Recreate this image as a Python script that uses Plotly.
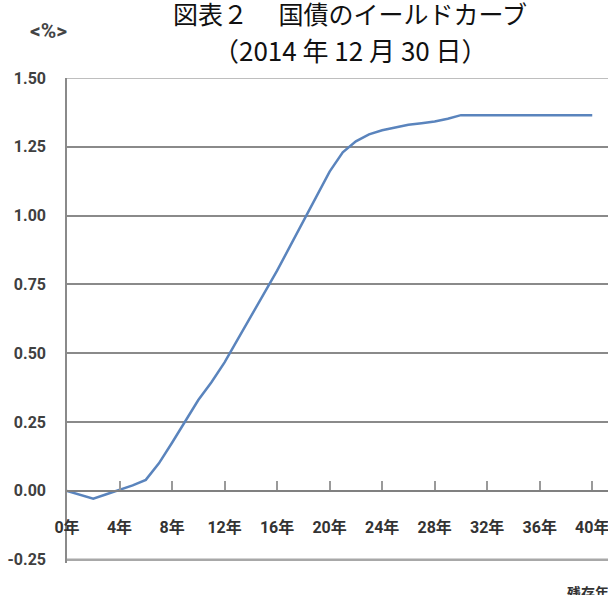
import plotly.graph_objects as go

# Data
maturity_years = [0, 1, 2, 3, 4, 5, 6, 7, 8, 9, 10, 11, 12, 13, 14, 15, 16, 17, 18, 19,
                  20, 21, 22, 23, 24, 25, 26, 27, 28, 29, 30, 32, 34, 36, 38, 40]
yield_pct = [0.00, -0.015, -0.028, -0.012, 0.005, 0.02, 0.04, 0.10, 0.175, 0.255, 0.33,
             0.395, 0.467, 0.55, 0.633, 0.717, 0.80, 0.89, 0.98, 1.07,
             1.16, 1.23, 1.27, 1.295, 1.31, 1.32, 1.33, 1.336, 1.342, 1.352,
             1.365, 1.365, 1.365, 1.365, 1.365, 1.365]
x_tick_vals = [0, 4, 8, 12, 16, 20, 24, 28, 32, 36, 40]
x_tick_text = ["0年", "4年", "8年", "12年", "16年", "20年", "24年", "28年", "32年", "36年", "40年"]
y_tick_vals = [-0.25, 0.00, 0.25, 0.50, 0.75, 1.00, 1.25, 1.50]
y_tick_text = ["-0.25", "0.00", "0.25", "0.50", "0.75", "1.00", "1.25", "1.50"]

title_line1 = "図表２　 国債のイールドカーブ"
title_line2 = "（2014 年 12 月 30 日）"
unit_label = "<%>"
x_label = "残存年限"

NARROW = "Roboto, Noto Sans CJK JP, sans-serif"
CJK = "Noto Sans CJK JP, sans-serif"

ymin, ymax = -0.25, 1.5
ymin_plot = -0.262   # small pad so the -0.25 line lies inside the plot
x_range = [0, 41.2]

fig = go.Figure()
fig.add_trace(go.Scatter(
    x=maturity_years, y=yield_pct, mode="lines",
    line=dict(color="#5a84bd", width=2.5),
    hoverinfo="skip", showlegend=False,
))

fig.update_layout(
    width=608, height=595,
    margin=dict(l=67, r=0, t=78, b=32),
    paper_bgcolor="white", plot_bgcolor="white",
    xaxis=dict(
        range=x_range,
        anchor="free", position=(0 - ymin_plot) / (ymax - ymin_plot),
        showgrid=False, zeroline=False,
        showline=True, linecolor="#808080", linewidth=2,
        ticks="inside", ticklen=9, tickwidth=1.5, tickcolor="#9a9a9a",
        tickvals=x_tick_vals, ticktext=x_tick_text,
        tickfont=dict(family=NARROW, size=16, color="#333333", weight="bold"),
        ticklabelstandoff=22, ticklabeloverflow="allow",
    ),
    yaxis=dict(
        range=[ymin_plot, ymax],
        tickvals=y_tick_vals, ticktext=y_tick_text,
        showgrid=True, gridcolor="#8a8a8a", gridwidth=2,
        zeroline=False,
        showline=True, linecolor="#8a8a8a", linewidth=1.5,
        ticks="", ticklabelstandoff=16,
        tickfont=dict(family=NARROW, size=16, color="#404040", weight="bold"),
    ),
    shapes=[
        dict(type="line", xref="x", yref="y", x0=x_range[0], x1=x_range[1], y0=ymin, y1=ymin,
             line=dict(color="#a8a8a8", width=2.5), layer="above"),
        dict(type="line", xref="x", yref="y", x0=x_range[0], x1=x_range[1], y0=ymax, y1=ymax,
             line=dict(color="#a8a8a8", width=1.5), layer="above"),
    ],
    annotations=[
        dict(text=title_line1, xref="paper", yref="paper", x=(350 - 67) / 541, y=1 + (78 - 13) / 485,
             xanchor="center", yanchor="middle", showarrow=False,
             font=dict(family=CJK, size=25, color="#111111")),
        dict(text=title_line2, xref="paper", yref="paper", x=(350 - 67) / 541, y=1 + (78 - 50) / 485,
             xanchor="center", yanchor="middle", showarrow=False,
             font=dict(family=CJK, size=26, color="#111111")),
        dict(text=unit_label, xref="paper", yref="paper", x=(48 - 67) / 541, y=1 + (78 - 31) / 485,
             xanchor="center", yanchor="middle", showarrow=False,
             font=dict(family=NARROW, size=21, color="#444444", weight="bold")),
        dict(text=x_label, xref="paper", yref="paper", x=(565 - 67) / 541, y=-(592 - 563) / 485,
             xanchor="left", yanchor="middle", showarrow=False,
             font=dict(family=CJK, size=14, color="#333333", weight="bold")),
    ],
)

fig.write_html("out.html")
